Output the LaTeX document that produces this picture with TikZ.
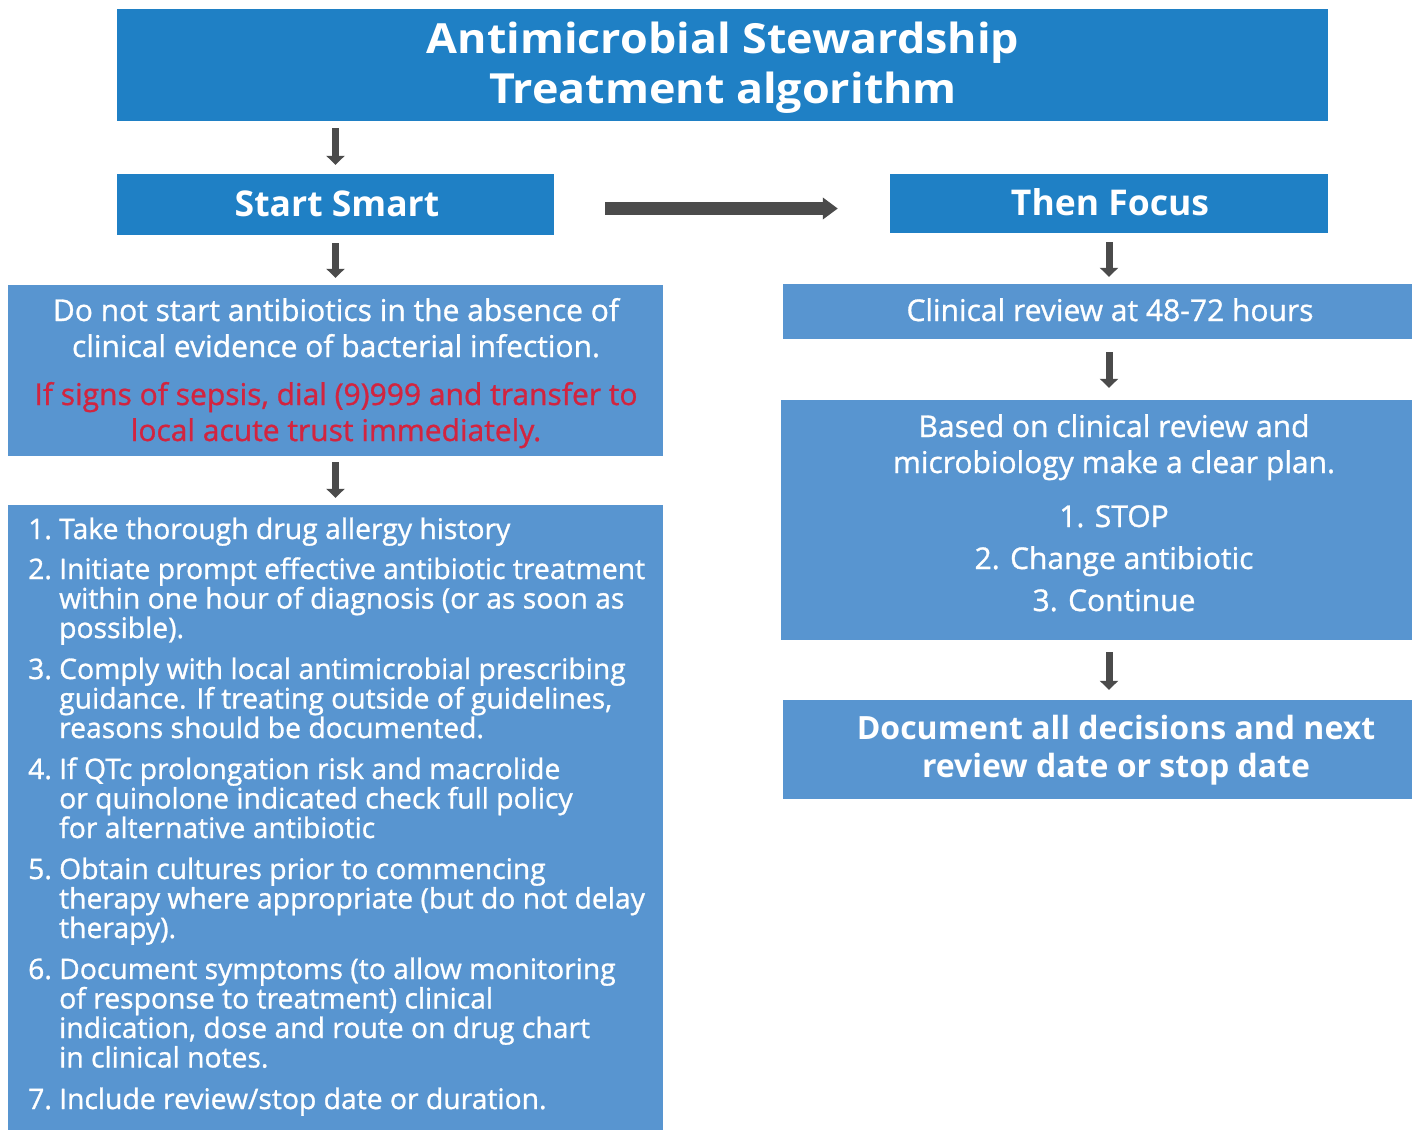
\documentclass[tikz,border=0pt]{standalone}
\usepackage{fontspec}
\setmainfont[FakeBold=1.0]{Open Sans}
\newfontfamily\hdfont[FakeStretch=1.08]{Open Sans}
\newfontfamily\subfont{Open Sans}
\usetikzlibrary{arrows.meta}
\definecolor{hdblue}{HTML}{1F80C5}
\definecolor{bxblue}{HTML}{5895D0}
\definecolor{alertred}{HTML}{D2243F}
\definecolor{arrgray}{HTML}{4B4B4B}
\newcommand\listitem[2]{\hangindent=31pt\hangafter=1\noindent\makebox[31pt][l]{#1}#2\par}
\tikzset{
  hdbox/.style={rectangle, fill=hdblue, draw=none, inner sep=0pt},
  bodybox/.style={rectangle, fill=bxblue, draw=none, inner sep=0pt},
  flow/.style={draw=arrgray, line width=7pt, -{Triangle[length=9pt,width=18pt]}},
  wideflow/.style={draw=arrgray, line width=13pt, -{Triangle[length=15pt,width=21pt]}},
  txt/.style={text=white, inner sep=0pt, anchor=base},
  hdtxt/.style={txt, font=\hdfont\bfseries\fontsize{41.5}{50}\selectfont},
  subtxt/.style={txt, font=\subfont\bfseries\fontsize{35.5}{44}\selectfont},
  bodytxt/.style={txt, font=\fontsize{30}{36}\selectfont},
}
\begin{document}
\begin{tikzpicture}[x=1pt,y=-1pt]
\useasboundingbox[fill=white] (0,0) rectangle (1412,1130);
% boxes
\node[hdbox, minimum width=1211pt, minimum height=112pt] (title) at (722.5,65) {};
\node[hdbox, minimum width=437pt, minimum height=61pt] (ss) at (335.5,204.5) {};
\node[hdbox, minimum width=438pt, minimum height=59pt] (tf) at (1109,203.5) {};
\node[bodybox, minimum width=655pt, minimum height=171pt] (nostart) at (335.5,370.5) {};
\node[bodybox, minimum width=655pt, minimum height=625pt] (list) at (335.5,817.5) {};
\node[bodybox, minimum width=629pt, minimum height=55pt] (review) at (1097.5,311.5) {};
\node[bodybox, minimum width=631pt, minimum height=240pt] (plan) at (1096.5,520) {};
\node[bodybox, minimum width=629pt, minimum height=99pt] (docbox) at (1097.5,749.5) {};
% texts
\node[hdtxt] (titletxt) at (723,53) {\begin{tabular}[t]{@{}c@{}}Antimicrobial Stewardship\\Treatment algorithm\end{tabular}};
\node[subtxt] (sstxt) at (337,216) {Start Smart};
\node[subtxt] (tftxt) at (1110,215) {Then Focus};
\node[bodytxt] (nostarttxt) at (336,321) {\begin{tabular}[t]{@{}c@{}}Do not start antibiotics in the absence of\\clinical evidence of bacterial infection.\\[12pt]
\textcolor{alertred}{If signs of sepsis, dial (9)999 and transfer to}\\\textcolor{alertred}{local acute trust immediately.}\end{tabular}};
\node[bodytxt] (reviewtxt) at (1110,321) {Clinical review at 48-72 hours};
\node[bodytxt] (plantxt) at (1114,437) {\begin{tabular}[t]{@{}c@{}}Based on clinical review and\\microbiology make a clear plan.\\[18pt]
1. STOP\\[6pt]2. Change antibiotic\\[6pt]3. Continue\end{tabular}};
\node[txt, font=\subfont\bfseries\fontsize{32}{38}\selectfont] (doctxt) at (1116,739) {\begin{tabular}[t]{@{}c@{}}Document all decisions and next\\review date or stop date\end{tabular}};
\node[txt, anchor=base west, font=\fontsize{28.3}{29.5}\selectfont] (listtxt) at (28,539) {\vtop{\hsize=640pt\parindent=0pt\parskip=0pt\raggedright
\listitem{1.}{Take thorough drug allergy history}
\vspace{10.5pt}
\listitem{2.}{Initiate prompt effective antibiotic treatment\newline within one hour of diagnosis (or as soon as\newline possible).}
\vspace{11.5pt}
\listitem{3.}{Comply with local antimicrobial prescribing\newline guidance. If treating outside of guidelines,\newline reasons should be documented.}
\vspace{11.5pt}
\listitem{4.}{If QTc prolongation risk and macrolide\newline or quinolone indicated check full policy\newline for alternative antibiotic}
\vspace{11.5pt}
\listitem{5.}{Obtain cultures prior to commencing\newline therapy where appropriate (but do not delay\newline therapy).}
\vspace{11.5pt}
\listitem{6.}{Document symptoms (to allow monitoring\newline of response to treatment) clinical\newline indication, dose and route on drug chart\newline in clinical notes.}
\vspace{12pt}
\listitem{7.}{Include review/stop date or duration.}}};
% connectors
\draw[flow, shorten <=7pt, shorten >=9pt] (ss.north |- title.south) -- (ss.north);
\draw[flow, shorten <=8pt, shorten >=7pt] (ss.south) -- (ss.south |- nostart.north);
\draw[flow, shorten <=6pt, shorten >=7pt] (ss.south |- nostart.south) -- (ss.south |- list.north);
\draw[wideflow, shorten <=51pt, shorten >=52pt] ([yshift=-4pt]ss.east) -- ([yshift=-4pt]ss.east -| tf.west);
\draw[flow, shorten <=9pt, shorten >=7pt] (tf.south) -- (tf.south |- review.north);
\draw[flow, shorten <=13pt, shorten >=12pt] (tf.south |- review.south) -- (tf.south |- plan.north);
\draw[flow, shorten <=12pt, shorten >=10pt] (tf.south |- plan.south) -- (tf.south |- docbox.north);
\end{tikzpicture}
\end{document}
